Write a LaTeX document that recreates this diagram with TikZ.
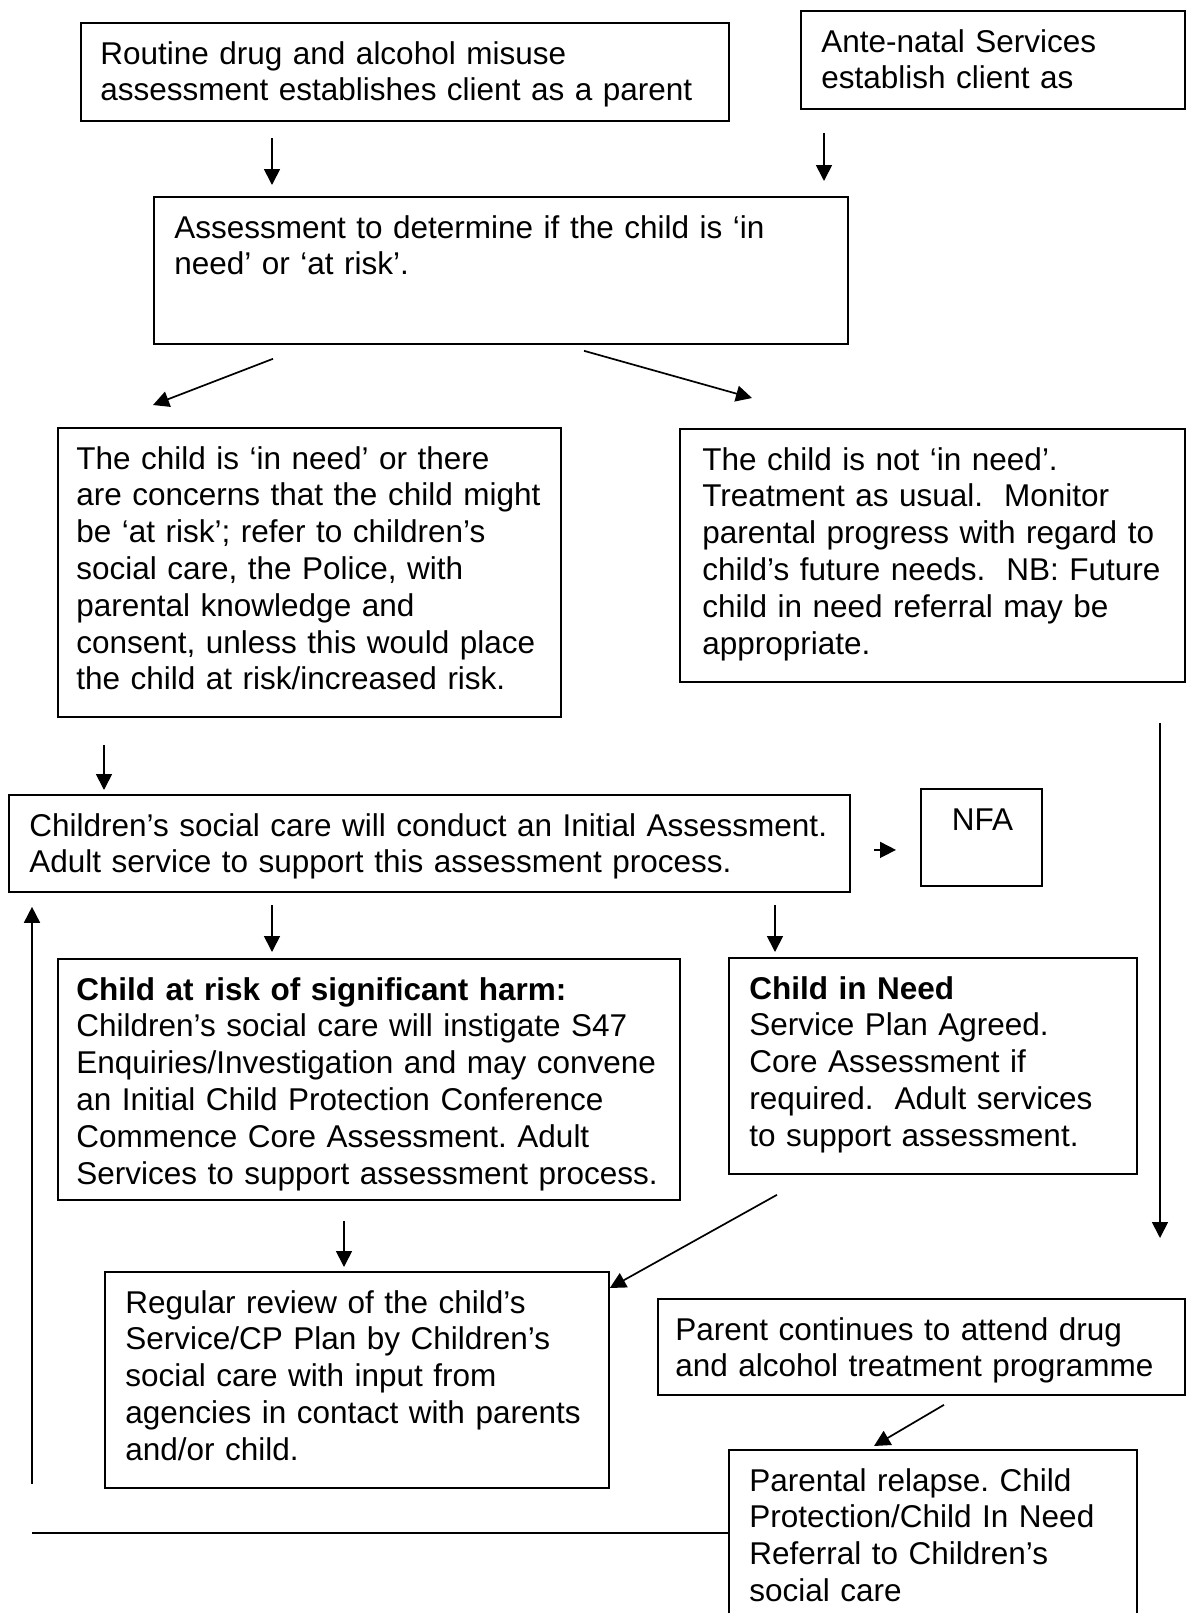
\documentclass[tikz,border=0pt]{standalone}
\usepackage{fontspec}
\setmainfont{Liberation Sans}
\usetikzlibrary{arrows.meta}
\newcommand{\firstln}{\rule{0pt}{20.8pt}}
\frenchspacing
\begin{document}
\begin{tikzpicture}[x=0.5pt,y=-0.5pt,
  boxnode/.style={draw, line width=0.9pt, inner sep=0pt, anchor=north west},
  txt/.style={inner sep=0pt, anchor=north west, align=left,
    font=\fontsize{15.75pt}{18.4pt}\selectfont},
  arr/.style={line width=0.85pt, -{Triangle[length=8pt,width=8pt]}},
  plainline/.style={line width=0.85pt}]
\useasboundingbox (0,0) rectangle (1186,1613);
\clip (0,0) rectangle (1186,1613);

% boxes
\node[boxnode, minimum width=324pt, minimum height=49pt] (A) at (80,22) {};
\node[boxnode, minimum width=192pt, minimum height=49pt] (B) at (800,10) {};
\node[boxnode, minimum width=347pt, minimum height=73.5pt] (C) at (153,196) {};
\node[boxnode, minimum width=251.5pt, minimum height=144.5pt] (D) at (57,427) {};
\node[boxnode, minimum width=252.5pt, minimum height=126.5pt] (E) at (679,428) {};
\node[boxnode, minimum width=420.5pt, minimum height=48.5pt] (F) at (8,794) {};
\node[boxnode, minimum width=60.5pt, minimum height=48.5pt] (N) at (920,788) {};
\node[boxnode, minimum width=311pt, minimum height=120.5pt] (G) at (57,958) {};
\node[boxnode, minimum width=204pt, minimum height=108pt] (H) at (728,957) {};
\node[boxnode, minimum width=252pt, minimum height=108pt] (I) at (104,1271) {};
\node[boxnode, minimum width=263.5pt, minimum height=48pt] (J) at (657,1298) {};
\node[boxnode, minimum width=204pt, minimum height=100pt] (K) at (728,1449) {};

% texts
\node[txt, text width=314pt] (tA) at ([xshift=10pt]A.north west)
  {\firstln Routine drug and alcohol misuse\\assessment establishes client as a parent};
\node[txt, text width=182pt] (tB) at ([xshift=10.5pt]B.north west)
  {\firstln Ante-natal Services\\establish client as};
\node[txt, text width=337pt] (tC) at ([xshift=10.5pt]C.north west)
  {\firstln Assessment to determine if the child is ‘in\\need’ or ‘at risk’.};
\node[txt, text width=241pt] (tD) at ([xshift=9.5pt]D.north west)
  {\firstln The child is ‘in need’ or there\\are concerns that the child might\\be ‘at risk’; refer to children’s\\social care, the Police, with\\parental knowledge and\\consent, unless this would place\\the child at risk/increased risk.};
\node[txt, text width=240pt] (tE) at ([xshift=11.5pt]E.north west)
  {\firstln The child is not ‘in need’.\\Treatment as usual.\ \ Monitor\\parental progress with regard to\\child’s future needs.\ \ NB: Future\\child in need referral may be\\appropriate.};
\node[txt, text width=410pt] (tF) at ([xshift=10.5pt]F.north west)
  {\firstln Children’s social care will conduct an Initial Assessment.\\Adult service to support this assessment process.};
\node[txt, anchor=north, align=center] (tN) at ([xshift=0.5pt]N.north)
  {\firstln NFA};
\node[txt, text width=300pt] (tG) at ([xshift=9.5pt]G.north west)
  {\firstln\textbf{Child at risk of significant harm:}\\Children’s social care will instigate S47\\Enquiries/Investigation and may convene\\an Initial Child Protection Conference\\Commence Core Assessment. Adult\\Services to support assessment process.};
\node[txt, text width=194pt] (tH) at ([xshift=10.5pt]H.north west)
  {\firstln\textbf{Child in Need}\\Service Plan Agreed.\\Core Assessment if\\required.\ \ Adult services\\to support assessment.};
\node[txt, text width=242pt] (tI) at ([xshift=10.5pt]I.north west)
  {\firstln Regular review of the child’s\\Service/CP Plan by Children’s\\social care with input from\\agencies in contact with parents\\and/or child.};
\node[txt, text width=254pt] (tJ) at ([xshift=9pt]J.north west)
  {\firstln Parent continues to attend drug\\and alcohol treatment programme};
\node[txt, text width=194pt] (tK) at ([xshift=10.5pt]K.north west)
  {\firstln Parental relapse. Child\\Protection/Child In Need\\Referral to Children’s\\social care};

% connectors
\draw[arr] ([xshift=96pt,yshift=-8pt]A.south west) -- ([xshift=59.5pt,yshift=5.5pt]C.north west);
\draw[arr] ([xshift=12pt,yshift=-11.5pt]B.south west) -- ([xshift=335.5pt,yshift=7.5pt]C.north west);
\draw[arr] ([xshift=60pt,yshift=-7pt]C.south west) -- ([xshift=48pt,yshift=11pt]D.north west);
\draw[arr] ([xshift=215.5pt,yshift=-3pt]C.south west) -- ([xshift=36.5pt,yshift=15pt]E.north west);
\draw[arr] ([xshift=23.5pt,yshift=-13.5pt]D.south west) -- ([xshift=48pt,yshift=2pt]F.north west);
\draw[arr] ([xshift=11.5pt,yshift=-3.25pt]F.east) -- ([xshift=-12pt,yshift=-6.25pt]N.west);
\draw[arr] ([xshift=240.5pt,yshift=-20pt]E.south west) -- ([xshift=251.5pt,yshift=30pt]J.north west);
\draw[arr] ([xshift=132pt,yshift=-6pt]F.south west) -- ([xshift=107.5pt,yshift=3pt]G.north west);
\draw[arr] ([xshift=383.5pt,yshift=-6pt]F.south west) -- ([xshift=23.5pt,yshift=2.5pt]H.north west);
\draw[arr] ([xshift=143.5pt,yshift=-10pt]G.south west) -- ([xshift=120pt,yshift=2pt]I.north west);
\draw[arr] ([xshift=24.5pt,yshift=-10pt]H.south west) -- ([yshift=-8.5pt]I.north east);
\draw[arr] ([xshift=143.5pt,yshift=-4.5pt]J.south west) -- ([xshift=73pt,yshift=1.5pt]K.north west);
\coordinate (lowL) at ([xshift=-348pt,yshift=-42pt]K.north west);
\draw[plainline] ([yshift=-42pt]K.north west) -- (lowL);
\draw[arr] ([xshift=12pt,yshift=-295.5pt]F.south west) -- ([xshift=12pt,yshift=-7pt]F.south west);
\end{tikzpicture}
\end{document}
